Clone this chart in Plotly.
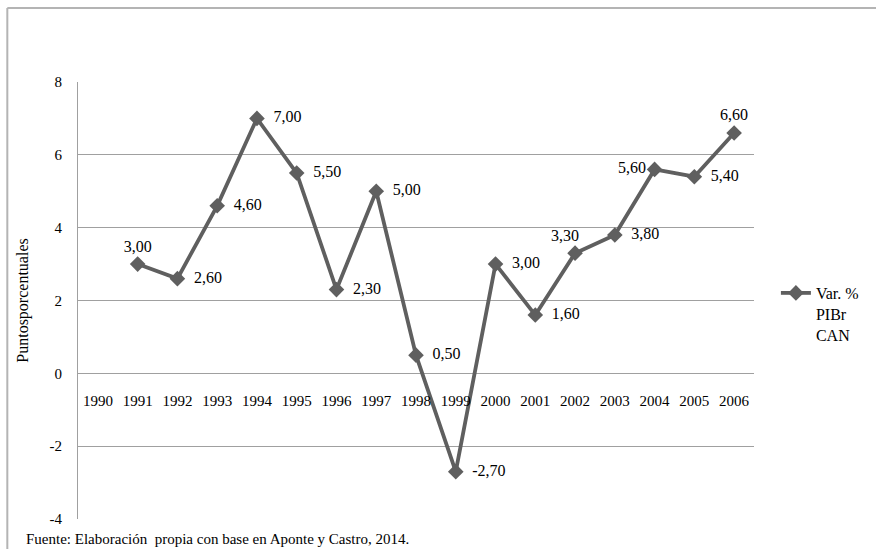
import plotly.graph_objects as go

years = [str(y) for y in range(1990, 2007)]
values = [None, 3.00, 2.60, 4.60, 7.00, 5.50, 2.30, 5.00, 0.50, -2.70,
          3.00, 1.60, 3.30, 3.80, 5.60, 5.40, 6.60]
positions = ["top center", "top center", "middle right", "middle right", "middle right",
             "middle right", "middle right", "middle right", "middle right", "middle right",
             "middle right", "middle right", "top center", "middle right", "middle left",
             "middle right", "top center"]
y_ticks = [-4, -2, 0, 2, 4, 6, 8]

NB = "\u00a0"


def fmt(v, pos):
    if v is None:
        return ""
    s = f"{v:.2f}".replace(".", ",")
    if pos == "middle right":
        return NB * 2 + s
    return s


labels = [fmt(v, p) for v, p in zip(values, positions)]
labels[12] = labels[12] + NB * 5  # shift the 2002 label a little to the left

W, H = 876, 549
L, R, T, B = 78, 757, 82, 519
LINE = "#5f5f5f"
FONT = "Liberation Serif"

fig = go.Figure()
fig.add_trace(go.Scatter(
    x=years, y=values, mode="lines+markers+text",
    name="Var. %<br>PIBr<br>CAN",
    line=dict(color=LINE, width=3.8),
    marker=dict(symbol="diamond", size=12, color=LINE),
    text=labels, textposition=positions,
    textfont=dict(family=FONT, size=16, color="#000000"),
    connectgaps=False,
))

pw = R - L
ph = B - T


def px(x):
    return (x - L) / pw


def py(y):
    return (B - y) / ph


fig.update_layout(
    width=W, height=H,
    margin=dict(l=L, r=W - R, t=T, b=H - B),
    paper_bgcolor="white", plot_bgcolor="white",
    font=dict(family=FONT, size=15, color="#000000"),
    showlegend=True,
    legend=dict(x=px(779), y=py(314), xanchor="left", yanchor="middle",
                valign="top",
                font=dict(family=FONT, size=16, color="#000000"),
                bgcolor="rgba(0,0,0,0)", itemwidth=30),
    xaxis=dict(type="category", categoryorder="array", categoryarray=years,
               range=[-0.5, 16.5], showgrid=False, zeroline=False, showline=False,
               ticks="outside", ticklen=14, tickcolor="rgba(0,0,0,0)",
               anchor="free", position=py(373),
               tickfont=dict(family=FONT, size=15, color="#000000")),
    yaxis=dict(range=[-4, 8], tickvals=y_ticks, ticktext=[str(t) for t in y_ticks],
               showgrid=True, gridcolor="#a0a0a0", gridwidth=1,
               zeroline=True, zerolinecolor="#a0a0a0", zerolinewidth=1,
               showline=True, linecolor="#a0a0a0", linewidth=1,
               ticks="outside", ticklen=12, tickcolor="rgba(0,0,0,0)",
               tickfont=dict(family=FONT, size=15, color="#000000"),
               title=dict(text="Puntosporcentuales", standoff=16,
                          font=dict(family=FONT, size=16, color="#000000"))),
    annotations=[dict(text="Fuente: Elaboración  propia con base en Aponte y Castro, 2014.",
                      xref="paper", yref="paper", x=px(24), y=py(539),
                      xanchor="left", yanchor="middle", showarrow=False,
                      font=dict(family=FONT, size=15, color="#000000"))],
    shapes=[
        dict(type="line", xref="paper", yref="paper", x0=px(7), x1=px(7),
             y0=py(8), y1=py(560), line=dict(color="#b4b4b4", width=2)),
        dict(type="line", xref="paper", yref="paper", x0=px(7), x1=px(890),
             y0=py(8), y1=py(8), line=dict(color="#b4b4b4", width=2)),
    ],
)

fig.write_html("out.html", config={"displayModeBar": False},
               post_script="document.body.style.margin='0px';document.body.style.padding='0px';")
